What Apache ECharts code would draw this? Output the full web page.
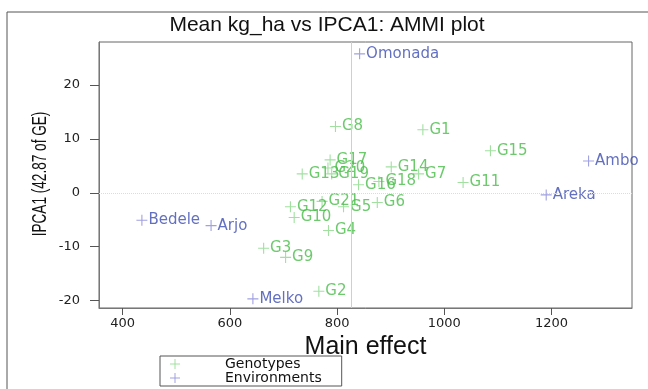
<!DOCTYPE html>
<html>
<head>
<meta charset="utf-8">
<script src="https://cdn.jsdelivr.net/npm/echarts@6/dist/echarts.min.js"></script>
<style>
  html, body { margin: 0; padding: 0; background: #fff; }
  #chart { width: 648px; height: 389px; }
</style>
</head>
<body>
<div id="chart"></div>
<script>
// genotypes
const genoNames = ["G1", "G2", "G3", "G4", "G5", "G6", "G7", "G8", "G9", "G10", "G11",
  "G12", "G13", "G14", "G15", "G16", "G17", "G18", "G19", "G20", "G21"];
const genoMean = [960, 766, 663, 784, 812, 875, 952, 797, 704, 720, 1035,
  713, 735, 901, 1086, 840, 787, 878, 790, 783, 772];
const genoIpca = [11.7, -18.3, -10.3, -7.0, -2.6, -1.8, 3.5, 12.3, -12.0, -4.6, 1.9,
  -2.6, 3.5, 4.8, 7.8, 1.5, 6.1, 2.1, 3.5, 4.6, -1.6];

// environments
const envNames = ["Omonada", "Ambo", "Areka", "Bedele", "Arjo", "Melko"];
const envMean = [842, 1269, 1190, 436, 565, 643];
const envIpca = [25.8, 5.9, -0.4, -5.1, -6.1, -19.7];

const grandMean = 826;
const xTicks = [400, 600, 800, 1000, 1200];
const yTicks = [-20, -10, 0, 10, 20];

const plusIcon = "path://M0,4.5H10V5.5H0Z M4.5,0H5.5V10H4.5Z";
const wideFont = "DejaVu Sans, sans-serif";

let myChart = echarts.init(document.getElementById("chart"));

let genoData = genoNames.map((n, i) => [genoMean[i], genoIpca[i], n]);
let envData = envNames.map((n, i) => [envMean[i], envIpca[i], n]);

let option = {
  animation: false,
  textStyle: { fontFamily: "Liberation Sans, Arial, sans-serif" },
  title: {
    text: "Mean kg_ha vs IPCA1: AMMI plot",
    left: 322,
    textAlign: "center",
    top: 10,
    textStyle: { fontSize: 21, fontWeight: "normal", color: "#111" },
  },
  grid: {
    left: 99,
    right: 16,
    top: 42,
    bottom: 81,
    show: true,
    borderColor: "#666",
    borderWidth: 1,
  },
  legend: {
    left: 160,
    top: 356,
    orient: "vertical",
    itemGap: 0,
    itemWidth: 10,
    itemHeight: 10,
    padding: [1, 20, 1, 10],
    borderColor: "#555",
    borderWidth: 1,
    textStyle: {
      fontSize: 14,
      fontFamily: wideFont,
      color: "#111",
      lineHeight: 12,
      padding: [0, 0, 0, 40],
    },
    data: [
      { name: "Genotypes", icon: plusIcon, itemStyle: { color: "#8ad88a" } },
      { name: "Environments", icon: plusIcon, itemStyle: { color: "#8a8ad8" } },
    ],
  },
  xAxis: {
    type: "value",
    min: 356,
    max: 1350,
    name: "Main effect",
    nameLocation: "middle",
    nameGap: 24,
    nameTextStyle: { fontSize: 25, color: "#111" },
    axisLine: { show: true, onZero: false, lineStyle: { color: "#777" } },
    axisTick: { show: true, length: 7, customValues: xTicks, lineStyle: { color: "#555" } },
    axisLabel: {
      customValues: xTicks,
      fontSize: 13,
      fontFamily: wideFont,
      color: "#222",
      margin: 9,
      formatter: (v) => String(v),
    },
    splitLine: { show: false },
  },
  yAxis: {
    type: "value",
    min: -21.4,
    max: 28,
    axisLine: { show: true, onZero: false, lineStyle: { color: "#777" } },
    axisTick: { show: true, length: 9, customValues: yTicks, lineStyle: { color: "#555" } },
    axisLabel: {
      customValues: yTicks,
      fontSize: 13,
      fontFamily: wideFont,
      color: "#222",
      margin: 19,
    },
    splitLine: { show: false },
  },
  graphic: [
    {
      // outer frame
      type: "polyline",
      shape: { points: [[7, 389], [7, 12], [648, 12]] },
      style: { stroke: "#555", lineWidth: 1, fill: null },
      silent: true,
    },
    {
      type: "text",
      x: 40,
      y: 174,
      rotation: Math.PI / 2,
      scaleX: 0.68,
      style: {
        text: "IPCA1 (42.87 of GE)",
        fontSize: 20,
        fill: "#111",
        align: "center",
        verticalAlign: "middle",
        fontFamily: "Liberation Sans, Arial, sans-serif",
      },
      silent: true,
    },
  ],
  series: [
    {
      name: "Genotypes",
      type: "scatter",
      data: genoData,
      symbol: plusIcon,
      symbolSize: 11,
      itemStyle: { color: "#8ad88a" },
      label: {
        show: true,
        position: "right",
        distance: 1,
        formatter: (p) => p.data[2],
        fontSize: 15,
        fontFamily: wideFont,
        color: "#47bb47",
      },
      markLine: {
        silent: true,
        symbol: "none",
        label: { show: false },
        data: [
          { xAxis: grandMean, lineStyle: { color: "#cfcfcf", type: "solid", width: 1 } },
          { yAxis: 0, lineStyle: { color: "#dcdcdc", type: "dotted", width: 1 } },
        ],
      },
      z: 3,
    },
    {
      name: "Environments",
      type: "scatter",
      data: envData,
      symbol: plusIcon,
      symbolSize: 11,
      itemStyle: { color: "#8a8ad8" },
      label: {
        show: true,
        position: "right",
        distance: 1,
        formatter: (p) => p.data[2],
        fontSize: 15,
        fontFamily: wideFont,
        color: "#3c4cb0",
      },
      z: 3,
    },
  ],
};
myChart.setOption(option);
</script>
</body>
</html>
